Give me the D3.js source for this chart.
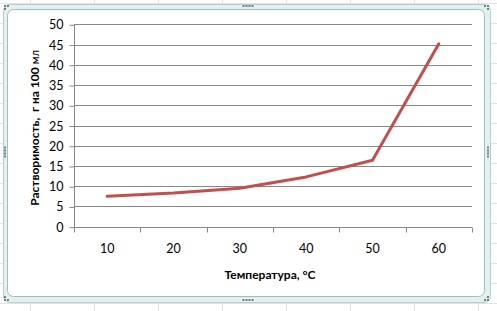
<!DOCTYPE html>
<html><head><meta charset="utf-8">
<script src="https://cdn.jsdelivr.net/npm/d3@7/dist/d3.min.js"></script>
<style>html,body{margin:0;padding:0;background:#fff;}svg{display:block;}</style>
</head><body>
<script>
const categories = ["10", "20", "30", "40", "50", "60"];
const values = [7.5, 8.3, 9.5, 12.3, 16.4, 45.2];
const yTicks = [0, 5, 10, 15, 20, 25, 30, 35, 40, 45, 50];
const xTitle = "Температура, °C";
const yTitleMain = "Растворимость,  г на 100 ";
const yTitleUnit = "мл";

(function () {
const W = 497, H = 311;
const svg = d3.select("body").append("svg").attr("width", W).attr("height", H);
const font = "Lato, 'Noto Sans', sans-serif";

// spreadsheet cell grid behind chart
const g0 = svg.append("g").attr("stroke", "#dfe3e6").attr("stroke-width", 1);
for (let gx = 30.5; gx < W; gx += 64) g0.append("line").attr("x1", gx).attr("x2", gx).attr("y1", 0).attr("y2", H);
for (let gy = 303.5; gy > 0; gy -= 20) g0.append("line").attr("x1", 0).attr("x2", W).attr("y1", gy).attr("y2", gy);

// selection frame
svg.append("rect").attr("x", 3.5).attr("y", 4.5).attr("width", 487).attr("height", 298).attr("rx", 6)
  .attr("fill", "#e3f0f0").attr("stroke", "#b9cdcf");
svg.append("rect").attr("x", 7.5).attr("y", 9.5).attr("width", 477).attr("height", 287).attr("rx", 6)
  .attr("fill", "#ffffff").attr("stroke", "#a8bcbe");
// handles
const dots = svg.append("g").attr("fill", "#6f7f88");
function dotRow(cx, cy, n, horiz) {
  for (let i = 0; i < n; i++) {
    const off = (i - (n - 1) / 2) * 3;
    dots.append("rect").attr("x", (horiz ? cx + off : cx) - 1).attr("y", (horiz ? cy : cy + off) - 1).attr("width", 2).attr("height", 2);
  }
}
dotRow(248, 6, 4, true); dotRow(248, 300, 4, true);
dotRow(5, 152, 4, false); dotRow(488, 152, 4, false);
[[5,6],[488,6],[5,300],[488,300]].forEach(([cx,cy]) => {
  const sx = cx < 100 ? 0 : -3;
  dots.append("rect").attr("x", cx - 1 + sx).attr("y", cy - 1).attr("width", 2).attr("height", 2);
  dots.append("rect").attr("x", cx + 2 + sx).attr("y", cy - 1).attr("width", 2).attr("height", 2);
  dots.append("rect").attr("x", cx - 1 + (cx < 100 ? 0 : 0)).attr("y", cy + (cy < 100 ? 2 : -4)).attr("width", 2).attr("height", 2);
});

// plot
const pLeft = 74, pRight = 472, pTop = 24.3, pBottom = 226.7;
const x = d3.scaleBand().domain(categories).range([pLeft, pRight]).padding(0);
const y = d3.scaleLinear().domain([0, 50]).range([pBottom, pTop]);

// gridlines
svg.append("g").selectAll("line").data(yTicks.filter(d => d > 0)).join("line")
  .attr("x1", pLeft).attr("x2", pRight)
  .attr("y1", d => Math.round(y(d)) + 0.5).attr("y2", d => Math.round(y(d)) + 0.5)
  .attr("stroke", "#878787").attr("stroke-width", 1);

// y axis
const yAxis = svg.append("g").attr("transform", `translate(${pLeft + 0.5},0.5)`)
  .call(d3.axisLeft(y).tickValues(yTicks).tickSize(5).tickPadding(6));
yAxis.select(".domain").attr("stroke", "#878787").attr("d", `M0,${y(0)}V${y(50)}`);
yAxis.selectAll(".tick line").attr("stroke", "#878787");
yAxis.selectAll(".tick text").attr("font-family", font).attr("font-size", 12.5).attr("fill", "#000");

// x axis
const xa = svg.append("g").attr("transform", `translate(0,${Math.round(pBottom) + 0.5})`);
xa.append("line").attr("x1", pLeft).attr("x2", pRight).attr("stroke", "#878787");
const bounds = categories.map(c => x(c)).concat([x(categories[categories.length - 1]) + x.bandwidth()]);
xa.selectAll("line.t").data(bounds).join("line").attr("class", "t")
  .attr("x1", d => Math.round(d) + 0.5).attr("x2", d => Math.round(d) + 0.5).attr("y1", 0).attr("y2", 5)
  .attr("stroke", "#878787");
xa.selectAll("text").data(categories).join("text")
  .attr("x", d => x(d) + x.bandwidth() / 2).attr("y", 25)
  .attr("text-anchor", "middle").attr("font-family", font).attr("font-size", 12.5).attr("fill", "#000")
  .text(d => d);

// line
const line = d3.line().x((d, i) => x(categories[i]) + x.bandwidth() / 2).y(d => y(d));
svg.append("path").datum(values).attr("d", line).attr("fill", "none")
  .attr("stroke", "#c0504d").attr("stroke-width", 3).attr("stroke-linejoin", "round").attr("stroke-linecap", "round");

// titles
svg.append("text").attr("x", 270).attr("y", 279).attr("text-anchor", "middle")
  .attr("font-family", font).attr("font-weight", "bold").attr("font-size", 12).attr("fill", "#000")
  .text(xTitle);
const yt = svg.append("text").attr("transform", "translate(39,128) rotate(-90)").attr("text-anchor", "middle")
  .attr("font-family", font).attr("font-weight", "bold").attr("font-size", 12).attr("fill", "#000");
yt.append("tspan").style("white-space", "pre").text(yTitleMain);
yt.append("tspan").attr("font-weight", "normal").attr("font-size", 11).text(yTitleUnit);
})();
</script>
</body></html>
